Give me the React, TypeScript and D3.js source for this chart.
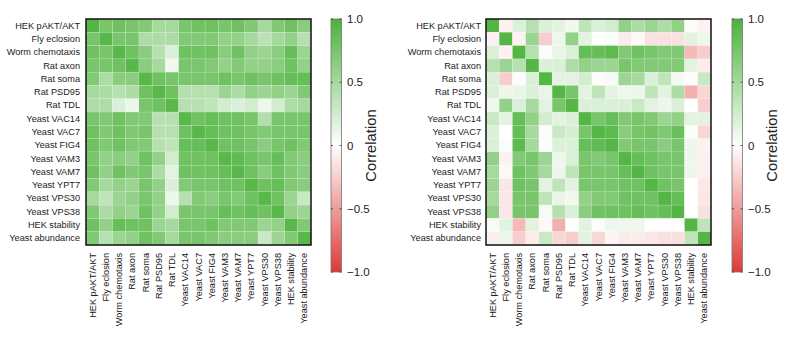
import React from "react";
import * as d3 from "d3";

const labels = [
  "HEK pAKT/AKT", "Fly eclosion", "Worm chemotaxis", "Rat axon", "Rat soma",
  "Rat PSD95", "Rat TDL", "Yeast VAC14", "Yeast VAC7", "Yeast FIG4",
  "Yeast VAM3", "Yeast VAM7", "Yeast YPT7", "Yeast VPS30", "Yeast VPS38",
  "HEK stability", "Yeast abundance",
];

const leftValues: number[][] = [
  [0.95, 0.75, 0.8, 0.75, 0.7, 0.5, 0.5, 0.75, 0.8, 0.8, 0.75, 0.8, 0.7, 0.5, 0.7, 0.8, 0.65],
  [0.75, 0.92, 0.75, 0.75, 0.45, 0.45, 0.45, 0.7, 0.7, 0.7, 0.6, 0.6, 0.5, 0.38, 0.5, 0.6, 0.4],
  [0.8, 0.75, 0.92, 0.8, 0.65, 0.4, 0.2, 0.8, 0.8, 0.8, 0.65, 0.8, 0.6, 0.55, 0.65, 0.85, 0.55],
  [0.75, 0.75, 0.8, 0.92, 0.65, 0.5, 0.08, 0.75, 0.75, 0.7, 0.6, 0.7, 0.6, 0.6, 0.65, 0.8, 0.6],
  [0.7, 0.45, 0.65, 0.65, 0.92, 0.8, 0.75, 0.75, 0.75, 0.75, 0.8, 0.75, 0.8, 0.75, 0.8, 0.85, 0.85],
  [0.5, 0.45, 0.4, 0.45, 0.8, 0.92, 0.8, 0.4, 0.4, 0.4, 0.55, 0.45, 0.6, 0.55, 0.6, 0.55, 0.7],
  [0.45, 0.45, 0.2, 0.1, 0.75, 0.8, 0.92, 0.4, 0.4, 0.35, 0.25, 0.2, 0.25, 0.1, 0.25, 0.45, 0.5],
  [0.75, 0.7, 0.8, 0.7, 0.7, 0.4, 0.4, 0.92, 0.8, 0.85, 0.8, 0.8, 0.75, 0.42, 0.75, 0.75, 0.75],
  [0.8, 0.7, 0.8, 0.7, 0.75, 0.4, 0.4, 0.8, 0.92, 0.85, 0.8, 0.8, 0.75, 0.7, 0.75, 0.75, 0.75],
  [0.8, 0.7, 0.8, 0.7, 0.7, 0.4, 0.35, 0.85, 0.85, 0.92, 0.8, 0.8, 0.75, 0.65, 0.75, 0.8, 0.7],
  [0.75, 0.6, 0.65, 0.6, 0.8, 0.6, 0.25, 0.8, 0.8, 0.8, 0.92, 0.88, 0.8, 0.75, 0.85, 0.7, 0.65],
  [0.8, 0.6, 0.8, 0.7, 0.75, 0.45, 0.15, 0.8, 0.8, 0.8, 0.85, 0.92, 0.8, 0.65, 0.8, 0.7, 0.65],
  [0.7, 0.5, 0.6, 0.55, 0.75, 0.6, 0.2, 0.7, 0.75, 0.75, 0.8, 0.8, 0.92, 0.8, 0.85, 0.7, 0.65],
  [0.5, 0.35, 0.55, 0.6, 0.75, 0.6, 0.1, 0.4, 0.7, 0.65, 0.75, 0.7, 0.8, 0.92, 0.8, 0.55, 0.3],
  [0.7, 0.45, 0.6, 0.55, 0.8, 0.6, 0.25, 0.75, 0.75, 0.75, 0.85, 0.8, 0.85, 0.8, 0.92, 0.6, 0.55],
  [0.8, 0.6, 0.85, 0.8, 0.8, 0.55, 0.5, 0.75, 0.75, 0.8, 0.7, 0.7, 0.7, 0.55, 0.6, 0.92, 0.7],
  [0.7, 0.4, 0.55, 0.6, 0.8, 0.7, 0.5, 0.75, 0.75, 0.7, 0.65, 0.65, 0.65, 0.3, 0.55, 0.7, 0.92],
];

const rightValues: number[][] = [
  [0.95, -0.07, 0.2, 0.4, 0.2, 0.15, 0.08, 0.35, 0.2, 0.25, 0.6, 0.45, 0.55, 0.45, 0.6, 0.03, -0.07],
  [-0.07, 0.95, -0.07, 0.55, -0.25, 0.1, 0.6, 0.15, 0.0, 0.03, -0.1, -0.03, -0.15, -0.15, -0.15, 0.15, 0.1],
  [0.2, -0.07, 0.95, 0.4, 0.02, 0.12, 0.2, 0.85, 0.85, 0.9, 0.7, 0.8, 0.75, 0.7, 0.7, -0.35, -0.25],
  [0.4, 0.55, 0.4, 0.95, 0.2, 0.2, 0.45, 0.6, 0.55, 0.55, 0.75, 0.7, 0.7, 0.7, 0.7, 0.15, -0.1],
  [0.2, -0.25, 0.02, 0.2, 0.95, 0.15, 0.15, 0.25, -0.02, 0.05, 0.55, 0.5, 0.2, 0.35, 0.07, -0.02, 0.3],
  [0.2, 0.1, 0.12, 0.2, 0.12, 0.95, 0.75, 0.15, 0.35, 0.15, 0.1, 0.1, 0.35, 0.15, 0.45, -0.4, -0.2],
  [0.08, 0.6, 0.2, 0.5, 0.15, 0.75, 0.95, 0.2, 0.2, 0.2, 0.2, 0.3, 0.15, 0.1, 0.2, 0.0, -0.25],
  [0.3, 0.15, 0.85, 0.6, 0.25, 0.15, 0.2, 0.95, 0.75, 0.85, 0.7, 0.75, 0.7, 0.55, 0.6, 0.15, 0.15],
  [0.2, 0.0, 0.85, 0.5, -0.02, 0.3, 0.22, 0.75, 0.95, 0.9, 0.65, 0.75, 0.78, 0.72, 0.82, 0.03, -0.2],
  [0.2, 0.03, 0.9, 0.5, 0.02, 0.2, 0.2, 0.85, 0.88, 0.95, 0.7, 0.75, 0.75, 0.65, 0.75, 0.1, -0.07],
  [0.6, -0.07, 0.7, 0.75, 0.55, 0.1, 0.2, 0.75, 0.7, 0.75, 0.95, 0.85, 0.8, 0.75, 0.75, 0.1, -0.08],
  [0.5, -0.03, 0.8, 0.7, 0.5, 0.1, 0.35, 0.75, 0.75, 0.75, 0.85, 0.95, 0.8, 0.75, 0.75, 0.1, -0.08],
  [0.55, -0.12, 0.8, 0.75, 0.15, 0.35, 0.15, 0.75, 0.75, 0.75, 0.8, 0.8, 0.95, 0.8, 0.75, 0.0, -0.12],
  [0.5, -0.12, 0.75, 0.75, 0.35, 0.12, 0.08, 0.6, 0.7, 0.7, 0.8, 0.8, 0.8, 0.95, 0.85, 0.0, -0.12],
  [0.6, -0.12, 0.75, 0.75, 0.05, 0.4, 0.2, 0.65, 0.8, 0.8, 0.8, 0.85, 0.8, 0.85, 0.95, 0.0, -0.15],
  [0.05, 0.15, -0.35, 0.15, -0.03, -0.4, 0.0, 0.15, 0.03, 0.1, 0.1, 0.1, 0.0, 0.0, 0.0, 0.95, 0.35],
  [-0.08, 0.1, -0.25, -0.1, 0.3, -0.2, -0.25, 0.15, -0.2, -0.05, -0.1, -0.1, -0.12, -0.15, -0.15, 0.35, 0.95],
];

const colorTicks = [1, 0.5, 0, -0.5, -1];
const colorbarTitle = "Correlation";

const FONT = "'Liberation Sans', Arial, Helvetica, sans-serif";

const color = d3
  .scaleLinear<string>()
  .domain([-1, 0, 1])
  .range(["#dc3a36", "#ffffff", "#4bb23a"])
  .interpolate(d3.interpolateRgb);

const fmt = (v: number) => (v === 0 ? "0" : d3.format(".1f")(v));

type PanelProps = { values: number[][]; x0: number; labelRight: number; cbX: number; id: string };

function Panel({ values, x0, labelRight, cbX, id }: PanelProps) {
  const top = 19;
  const size = 225;
  const x = d3.scaleBand<string>().domain(labels).range([x0, x0 + size]);
  const y = d3.scaleBand<string>().domain(labels).range([top, top + 226]);
  const cbTop = 19;
  const cbBottom = 272;
  const cbW = 10.5;
  const cy = d3.scaleLinear().domain([1, -1]).range([cbTop, cbBottom]);
  const stops = d3.range(0, 21).map((i) => -1 + i * 0.1);
  return (
    <g>
      <defs>
        <linearGradient id={id} x1="0" y1="1" x2="0" y2="0">
          {stops.map((s, i) => (
            <stop key={i} offset={`${((s + 1) / 2) * 100}%`} stopColor={color(s)} />
          ))}
        </linearGradient>
      </defs>
      {values.map((row, i) =>
        row.map((v, j) => (
          <rect
            key={`${i}-${j}`}
            x={x(labels[j])}
            y={y(labels[i])}
            width={x.bandwidth()}
            height={y.bandwidth()}
            fill={color(v)}
            stroke="rgba(255,255,255,0.22)"
            strokeWidth={0.6}
          />
        ))
      )}
      <rect x={x0} y={top} width={size} height={226} fill="none" stroke="#111" strokeWidth={1.5} />
      {labels.map((l) => (
        <text
          key={"r" + l}
          x={labelRight}
          y={(y(l) as number) + y.bandwidth() / 2}
          textAnchor="end"
          dominantBaseline="central"
          fontSize={9.2}
          fontFamily={FONT}
          fill="#222"
        >
          {l}
        </text>
      ))}
      {labels.map((l) => {
        const cx = (x(l) as number) + x.bandwidth() / 2;
        return (
          <text
            key={"c" + l}
            transform={`translate(${cx},253) rotate(-90)`}
            textAnchor="end"
            dominantBaseline="central"
            fontSize={9.2}
            fontFamily={FONT}
            fill="#222"
          >
            {l}
          </text>
        );
      })}
      <rect x={cbX} y={cbTop} width={cbW} height={cbBottom - cbTop} fill={`url(#${id})`} stroke="#777" strokeWidth={0.8} />
      {colorTicks.map((t) => (
        <g key={"t" + t}>
          <line x1={cbX} x2={cbX + 2} y1={cy(t)} y2={cy(t)} stroke="#333" strokeWidth={0.8} />
          <line x1={cbX + cbW - 2} x2={cbX + cbW} y1={cy(t)} y2={cy(t)} stroke="#333" strokeWidth={0.8} />
          <text
            x={cbX + 16}
            y={cy(t)}
            dominantBaseline="central"
            fontSize={11.5}
            fontFamily={FONT}
            fill="#222"
          >
            {fmt(t)}
          </text>
        </g>
      ))}
      <text
        transform={`translate(${cbX + 40},${cy(0)}) rotate(-90)`}
        textAnchor="middle"
        dominantBaseline="central"
        fontSize={14.8}
        fontFamily={FONT}
        fill="#222"
      >
        {colorbarTitle}
      </text>
    </g>
  );
}

export default function App() {
  return (
    <svg
      width={800}
      height={338}
      style={{ position: "absolute", left: 0, top: 0, background: "#fff" }}
    >
      <rect x={0} y={0} width={800} height={338} fill="#fff" />
      <Panel values={leftValues} x0={86} labelRight={80} cbX={331} id="gradL" />
      <Panel values={rightValues} x0={486} labelRight={481} cbX={732} id="gradR" />
    </svg>
  );
}
